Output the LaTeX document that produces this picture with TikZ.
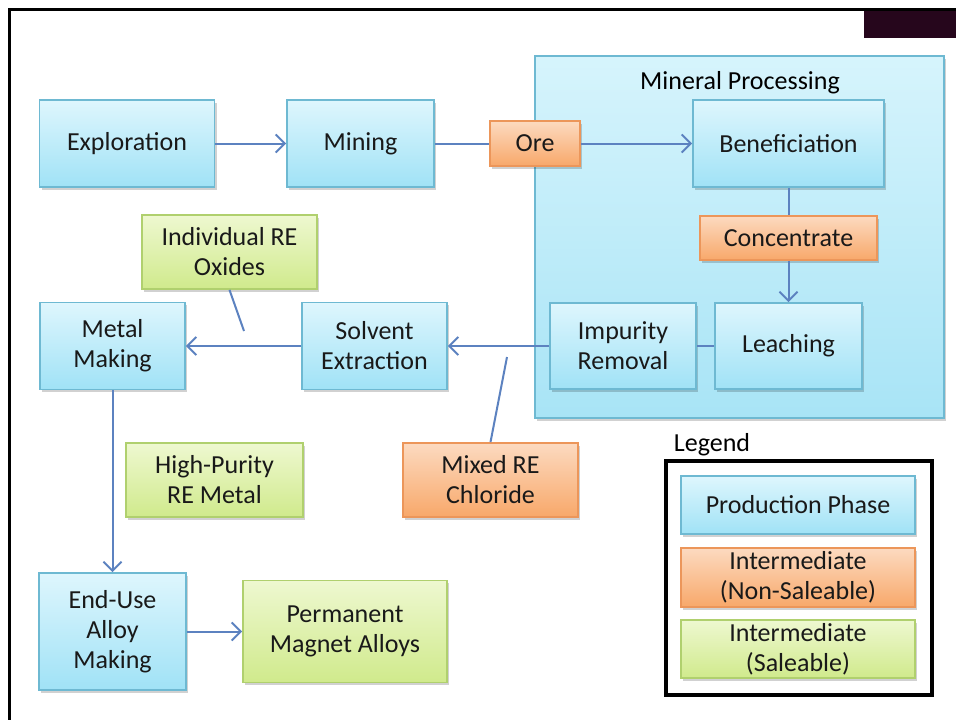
\documentclass[tikz,border=0pt]{standalone}
\usepackage{fontspec}
\setmainfont{Carlito}
\usetikzlibrary{arrows.meta,shadows}

\definecolor{flowline}{RGB}{92,130,192}
\definecolor{phasetop}{RGB}{222,246,253}
\definecolor{phasebot}{RGB}{160,226,246}
\definecolor{phaseedge}{RGB}{110,185,210}
\definecolor{oretop}{RGB}{252,218,192}
\definecolor{orebot}{RGB}{248,168,106}
\definecolor{oreedge}{RGB}{236,150,90}
\definecolor{saletop}{RGB}{238,248,208}
\definecolor{salebot}{RGB}{208,234,140}
\definecolor{saleedge}{RGB}{176,208,110}
\definecolor{mptop}{RGB}{214,244,252}
\definecolor{mpbot}{RGB}{168,228,246}
\definecolor{corner}{RGB}{38,6,28}

\tikzset{
  boxshadow/.style={drop shadow={shadow xshift=2pt,shadow yshift=-2.5pt,fill=black,opacity=.18}},
  phase/.style={draw=phaseedge, line width=1.8pt, top color=phasetop, bottom color=phasebot,
    align=center, inner sep=0pt, text=black!90, boxshadow},
  interm/.style={draw=oreedge, line width=1.8pt, top color=oretop, bottom color=orebot,
    align=center, inner sep=0pt, text=black!90, boxshadow},
  saleable/.style={draw=saleedge, line width=1.8pt, top color=saletop, bottom color=salebot,
    align=center, inner sep=0pt, text=black!90, boxshadow},
  flow/.style={flowline, line width=2pt, -{Straight Barb[length=9pt,width=18pt]}},
  link/.style={flowline, line width=2pt},
}

\begin{document}
\begin{tikzpicture}[x=1pt, y=-1pt,
    every node/.style={font=\fontsize{26}{30}\selectfont}]
  \useasboundingbox (0,0) rectangle (956,720);

  % Frame and corner tab
  \fill[white] (0,0) rectangle (956,720);
  \draw[line width=3pt] (9,720) -- (9,9) -- (956,9);
  \fill[corner] (864,10.5) rectangle (956,38);

  % Mineral processing block
  \node[phase, draw=phaseedge, top color=mptop, bottom color=mpbot, minimum width=409, minimum height=362] (mp) at (739.5,237) {};
  \node (mplabel) at (740,83) {Mineral Processing};

  % Top row
  \node[phase, minimum width=175, minimum height=87] (explore) at (127,143.5) {Exploration};
  \node[phase, minimum width=147, minimum height=87] (mining) at (360.5,143.5) {Mining};
  \node[interm, minimum width=90, minimum height=45] (ore) at (535,143.5) {Ore};
  \node[phase, minimum width=191, minimum height=87] (benef) at (788.5,143.5) {Beneficiation};
  \node[interm, minimum width=177, minimum height=44] (conc) at (788.5,238) {Concentrate};

  % Middle row
  \node[phase, minimum width=147, minimum height=86] (leach) at (788.5,346) {Leaching};
  \node[phase, minimum width=146, minimum height=86] (impur) at (623,346) {Impurity\\Removal};
  \node[phase, minimum width=145, minimum height=87] (solvent) at (374.5,346) {Solvent\\Extraction};
  \node[phase, minimum width=145, minimum height=87] (metal) at (112.5,346) {Metal\\Making};
  \node[saleable, minimum width=175, minimum height=74] (oxides) at (229.5,252) {Individual RE\\Oxides};
  \node[interm, minimum width=175, minimum height=74] (chloride) at (490.5,480) {Mixed RE\\Chloride};
  \node[saleable, minimum width=177, minimum height=74] (hpmetal) at (214.5,480) {High-Purity\\RE Metal};

  % Bottom row
  \node[phase, minimum width=147, minimum height=117] (enduse) at (112.5,631.5) {End-Use\\Alloy\\Making};
  \node[saleable, minimum width=204, minimum height=102] (magnet) at (345,631.5) {Permanent\\Magnet Alloys};

  % Connectors
  \draw[flow] (explore) -- (mining);
  \draw[link] (mining) -- (ore);
  \draw[flow] (ore) -- (benef);
  \draw[link] (benef) -- (conc);
  \draw[flow] (conc) -- (leach);
  \draw[link] (leach) -- (impur);
  \draw[flow] (impur) -- (solvent);
  \draw[flow] (solvent) -- (metal);
  \draw[flow] (metal) -- (enduse);
  \draw[flow] (enduse) -- (magnet);

  % Callouts
  \coordinate (oxtip) at (244,331);
  \coordinate (cltip) at (507,357);
  \draw[link] (oxides.south) -- (oxtip);
  \draw[link] (chloride.north) -- (cltip);

  % Legend
  \node (leglabel) at (712,445) {Legend};
  \node[draw, line width=4pt, minimum width=266, minimum height=234] (legend) at (799,578) {};
  \node[phase, minimum width=234, minimum height=58] (legphase) at (798,505) {Production Phase};
  \node[interm, minimum width=234, minimum height=59] (leginterm) at (798,577.5) {Intermediate\\(Non-Saleable)};
  \node[saleable, minimum width=234, minimum height=58] (legsale) at (798,649) {Intermediate\\(Saleable)};
\end{tikzpicture}
\end{document}
